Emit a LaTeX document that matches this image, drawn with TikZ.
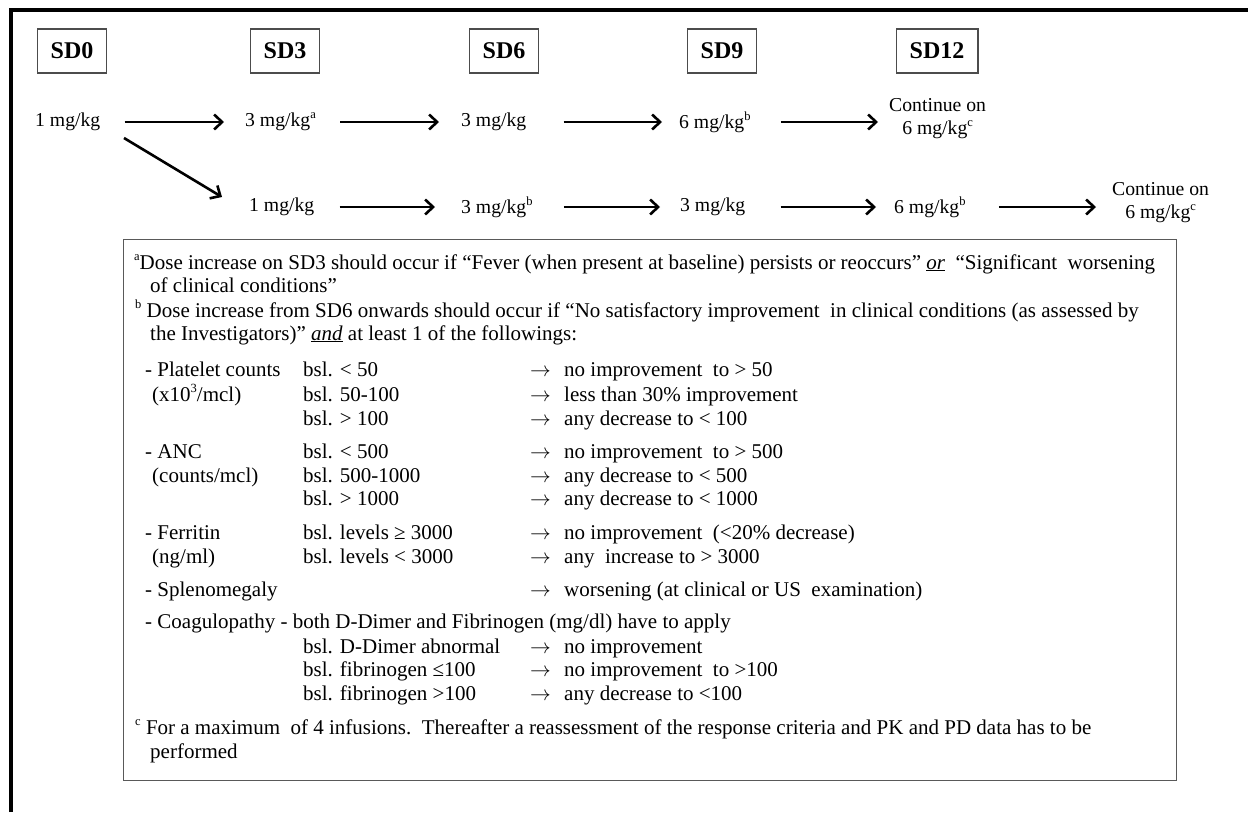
\documentclass[tikz,border=0pt]{standalone}
\usepackage{fontspec}
\setmainfont{Liberation Serif}
\usetikzlibrary{arrows.meta}
\newcommand{\sups}[1]{\raisebox{0.42em}{\fontsize{12.5}{12.5}\selectfont #1}}
\newcommand{\ar}{\makebox[34pt][l]{$\rightarrow$}}
\tikzset{
  hdr/.style={draw=black!70, line width=1.3pt, minimum height=44pt, inner xsep=13.5pt, inner ysep=0pt,
    font=\fontsize{24}{28}\selectfont\bfseries},
  dose/.style={inner sep=0pt, anchor=west, font=\fontsize{19.7}{23}\selectfont, align=center},
  arr/.style={line width=2.6pt, -{Straight Barb[length=8pt,width=15pt]}},
  ln/.style={anchor=base west, inner sep=0pt, font=\fontsize{21}{24}\selectfont},
  frame/.style={line width=4.8pt, black}
}
\begin{document}
\begin{tikzpicture}[x=1pt,y=-1pt]
\useasboundingbox (0,0) rectangle (1248,812);
\fill[white] (0,0) rectangle (1248,812);
% outer frame (top and left visible)
\coordinate (fl) at (11,812);
\coordinate (fc) at (11,10);
\coordinate (fr) at (1248,10);
\draw[frame] (fl) -- (fc) -- (fr);
% headers
\node[hdr] (sd0) at (72,51) {SD0};
\node[hdr] (sd3) at (285,51) {SD3};
\node[hdr] (sd6) at (504,51) {SD6};
\node[hdr] (sd9) at (722,51) {SD9};
\node[hdr] (sd12) at (937,51) {SD12};
% row 1
\node[dose] (a0) at (35,122) {1 mg/kg};
\node[dose] (a1) at (245,122) {3 mg/kg\sups{a}};
\node[dose] (a2) at (461,122) {3 mg/kg};
\node[dose] (a3) at (679,122) {6 mg/kg\sups{b}};
\node[dose] (a4) at (889,119) {Continue on\\6 mg/kg\sups{c}};
% row 2
\node[dose] (b1) at (249,207) {1 mg/kg};
\node[dose] (b2) at (461,207) {3 mg/kg\sups{b}};
\node[dose] (b3) at (680,207) {3 mg/kg};
\node[dose] (b4) at (894,207) {6 mg/kg\sups{b}};
\node[dose] (b5) at (1112,203) {Continue on\\6 mg/kg\sups{c}};
% arrows row 1
\draw[arr, shorten <=24pt, shorten >=21pt] (a0.east) -- (a1.west);
\draw[arr, shorten <=24pt, shorten >=22pt] (a1.east) -- (a2.west);
\draw[arr, shorten <=37pt, shorten >=17pt] (a2.east) -- (a3.west);
\draw[arr, shorten <=30pt, shorten >=11pt] (a3.east) -- (a4.west |- a3.east);
% diagonal
\coordinate (d0) at (124,138);
\coordinate (d1) at (222,197);
\draw[arr] (d0) -- (d1);
% arrows row 2
\draw[arr, shorten <=25pt, shorten >=26pt] (b1.east) -- (b2.west);
\draw[arr, shorten <=31pt, shorten >=20pt] (b2.east) -- (b3.west);
\draw[arr, shorten <=35pt, shorten >=18pt] (b3.east) -- (b4.west);
\draw[arr, shorten <=33pt, shorten >=16pt] (b4.east) -- (b5.west |- b4.east);
% footnote box
\coordinate (bxa) at (123,239);
\node[draw=black!65, line width=1.3pt, inner sep=0pt, anchor=north west,
  minimum width=1053pt, minimum height=541pt] (box) at (bxa) {};
\node[ln] (t1) at (134,269) {\sups{a}Dose increase on SD3 should occur if “Fever (when present at baseline) persists or reoccurs” \underline{\textit{or}}\ \ “Significant\ \ worsening};
\node[ln] (t2) at (150,292) {of clinical conditions”};
\node[ln] (t3) at (135,317) {\sups{b} Dose increase from SD6 onwards should occur if “No satisfactory improvement\ \ in clinical conditions (as assessed by};
\node[ln] (t4) at (150,340) {the Investigators)” \underline{\textit{and}} at least 1 of the followings:};
% table rows
\node[ln] (p1) at (145,376) {- Platelet counts};
\node[ln] (p2) at (152,401) {(x10\sups{3}/mcl)};
\node[ln] (p1b) at (303,376) {bsl. < 50};
\node[ln] (p2b) at (303,401) {bsl. 50-100};
\node[ln] (p3b) at (303,425) {bsl. > 100};
\node[ln] (p1c) at (530,376) {\ar no improvement\ \ to > 50};
\node[ln] (p2c) at (530,401) {\ar less than 30\% improvement};
\node[ln] (p3c) at (530,425) {\ar any decrease to < 100};
\node[ln] (n1) at (145,458) {- ANC};
\node[ln] (n2) at (152,482) {(counts/mcl)};
\node[ln] (n1b) at (303,458) {bsl. < 500};
\node[ln] (n2b) at (303,482) {bsl. 500-1000};
\node[ln] (n3b) at (303,505) {bsl. > 1000};
\node[ln] (n1c) at (530,458) {\ar no improvement\ \ to > 500};
\node[ln] (n2c) at (530,482) {\ar any decrease to < 500};
\node[ln] (n3c) at (530,505) {\ar any decrease to < 1000};
\node[ln] (f1) at (145,539) {- Ferritin};
\node[ln] (f2) at (152,563) {(ng/ml)};
\node[ln] (f1b) at (303,539) {bsl. levels ≥ 3000};
\node[ln] (f2b) at (303,563) {bsl. levels < 3000};
\node[ln] (f1c) at (530,539) {\ar no improvement\ \ (<20\% decrease)};
\node[ln] (f2c) at (530,563) {\ar any\ \ increase to > 3000};
\node[ln] (s1) at (145,596) {- Splenomegaly};
\node[ln] (s1c) at (530,596) {\ar worsening (at clinical or US\ \ examination)};
\node[ln] (c1) at (145,628) {- Coagulopathy - both D-Dimer and Fibrinogen (mg/dl) have to apply};
\node[ln] (c2b) at (303,653) {bsl. D-Dimer abnormal};
\node[ln] (c3b) at (303,676) {bsl. fibrinogen ≤100};
\node[ln] (c4b) at (303,700) {bsl. fibrinogen >100};
\node[ln] (c2c) at (530,653) {\ar no improvement};
\node[ln] (c3c) at (530,676) {\ar no improvement\ \ to >100};
\node[ln] (c4c) at (530,700) {\ar any decrease to <100};
\node[ln] (u1) at (135,734) {\sups{c} For a maximum\ \ of 4 infusions.\ \ Thereafter a reassessment of the response criteria and PK and PD data has to be};
\node[ln] (u2) at (150,758) {performed};
\end{tikzpicture}
\end{document}
